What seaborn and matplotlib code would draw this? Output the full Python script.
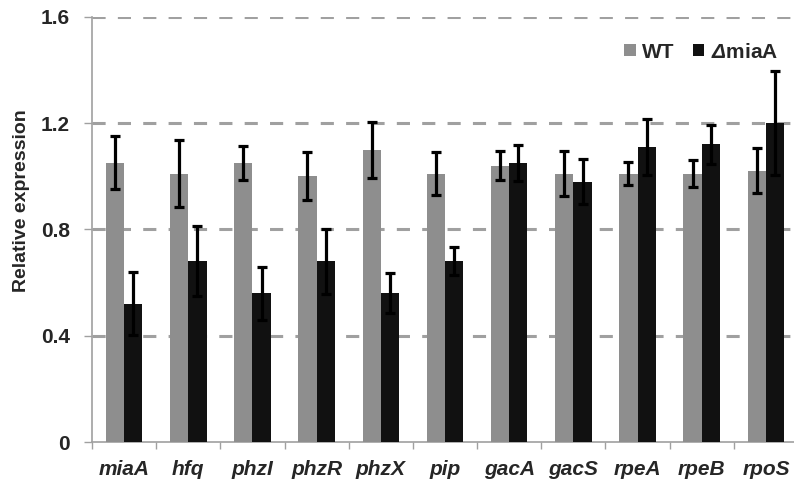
import matplotlib
matplotlib.use("Agg")
import matplotlib.pyplot as plt
import seaborn as sns
import pandas as pd
import numpy as np
from matplotlib.patches import Patch
from matplotlib.ticker import FixedLocator

genes = ["miaA", "hfq", "phzI", "phzR", "phzX", "pip",
         "gacA", "gacS", "rpeA", "rpeB", "rpoS"]
wt_mean = [1.05, 1.01, 1.05, 1.00, 1.10, 1.01, 1.04, 1.01, 1.01, 1.01, 1.02]
wt_err = [0.10, 0.125, 0.064, 0.09, 0.105, 0.08, 0.053, 0.084, 0.042, 0.05, 0.085]
mut_mean = [0.52, 0.68, 0.56, 0.68, 0.56, 0.68, 1.05, 0.98, 1.11, 1.12, 1.20]
mut_err = [0.118, 0.132, 0.10, 0.122, 0.075, 0.053, 0.068, 0.083, 0.107, 0.074, 0.194]
strains = ["WT", "ΔmiaA"]
legend_labels = ["WT", r"$\mathsf{\Delta}$miaA"]
yticks = [0, 0.4, 0.8, 1.2, 1.6]
ytick_labels = ["0", "0.4", "0.8", "1.2", "1.6"]

sns.set_style("white")
plt.rcParams["font.family"] = ["Liberation Sans", "DejaVu Sans"]
plt.rcParams["mathtext.fontset"] = "custom"
plt.rcParams["mathtext.rm"] = "Liberation Sans:bold"
plt.rcParams["mathtext.sf"] = "Liberation Sans:italic:bold"
plt.rcParams["mathtext.bf"] = "Liberation Sans:bold"

gray = "#8e8e8e"
black = "#111111"
grid_gray = "#a0a0a0"
spine_gray = "#a0a0a0"

df = pd.DataFrame({
    "gene": genes * 2,
    "strain": [strains[0]] * len(genes) + [strains[1]] * len(genes),
    "value": wt_mean + mut_mean,
})

fig = plt.figure(figsize=(7.94, 4.83), dpi=100)
ax = fig.add_axes([92 / 794, 1 - 442 / 483, 706 / 794, 425.3 / 483])

sns.barplot(data=df, x="gene", y="value", hue="strain", order=genes,
            hue_order=strains, palette=[gray, black], width=0.57,
            errorbar=None, saturation=1, gap=0, ax=ax, legend=False,
            linewidth=0, zorder=3)

# error bars at the centre of each bar
errs = {strains[0]: wt_err, strains[1]: mut_err}
means = {strains[0]: wt_mean, strains[1]: mut_mean}
patches = [p for p in ax.patches]
n = len(genes)
for k, s in enumerate(strains):
    xs = [patches[k * n + i].get_x() + patches[k * n + i].get_width() / 2
          for i in range(n)]
    ax.errorbar(xs, means[s], yerr=errs[s], fmt="none", ecolor="black",
                elinewidth=2.3, capsize=3.8, capthick=2.3, zorder=5)

ax.set_ylim(0, 1.6)
ax.set_xlim(-0.5, len(genes) - 0.5)
ax.set_yticks(yticks)
ax.set_yticklabels(ytick_labels, fontsize=15, fontweight="bold")
ax.set_xticks(range(len(genes)))
ax.set_xticklabels(genes, fontsize=15, fontweight="bold", fontstyle="italic")
ax.xaxis.set_minor_locator(FixedLocator(np.arange(-0.5, len(genes), 1.0)))
ax.tick_params(axis="x", which="major", length=0, pad=13)
ax.tick_params(axis="x", which="minor", length=5, width=1, color=spine_gray,
               direction="out", bottom=True)
ax.tick_params(axis="y", which="major", length=6, width=1, color=spine_gray,
               direction="out", pad=10, left=True)

for y in yticks[1:]:
    ax.axhline(y, color=grid_gray, lw=2.2, linestyle=(0, (4.3, 4.0)), zorder=1)

for side in ["top", "right"]:
    ax.spines[side].set_visible(False)
for side in ["left", "bottom"]:
    ax.spines[side].set_color(spine_gray)
    ax.spines[side].set_linewidth(1.2)

ax.set_xlabel("")
ax.set_ylabel("Relative expression", fontsize=14, fontweight="bold")
ax.yaxis.set_label_coords(-0.088, 0.567)

handles = [Patch(facecolor=gray, edgecolor="none"),
           Patch(facecolor=black, edgecolor="none")]
fig.legend(handles, legend_labels, ncol=2, frameon=False, loc="center",
           bbox_to_anchor=(701 / 794, 1 - 52 / 483),
           prop={"size": 15, "weight": "bold"},
           handlelength=0.55, handleheight=0.55, handletextpad=0.3,
           columnspacing=0.9, borderpad=0)

fig.savefig("out.png", dpi=100)
